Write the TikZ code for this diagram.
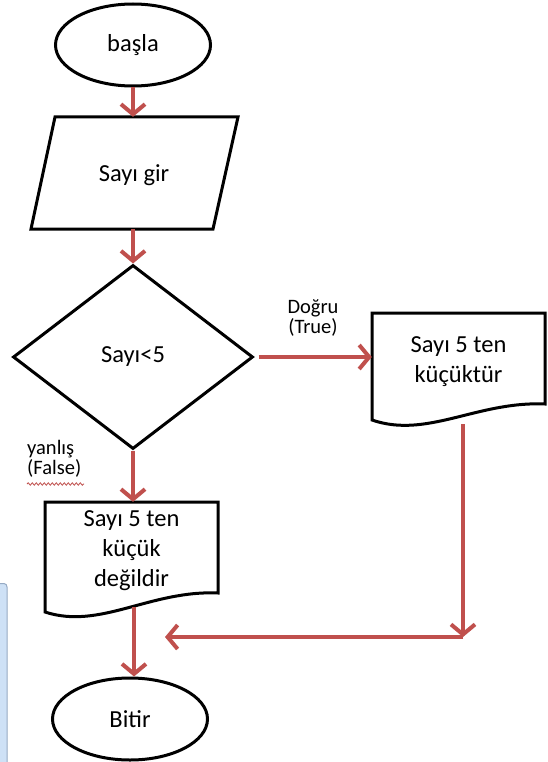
\documentclass[tikz,border=0pt]{standalone}
\usepackage{fontspec}
\setmainfont{Carlito}
\usetikzlibrary{shapes.geometric,arrows.meta,decorations.pathmorphing}
\definecolor{arrowred}{RGB}{192,80,77}
\definecolor{winblue}{RGB}{206,225,246}
\definecolor{winedge}{RGB}{150,170,196}
\begin{document}
\begin{tikzpicture}[x=1pt,y=-1pt,
  outline/.style={draw=black,line width=3pt},
  term/.style={ellipse,outline,minimum width=155pt,minimum height=82pt,inner sep=0pt,font=\fontsize{24.5}{30}\selectfont},
  frame/.style={inner sep=0pt},
  txt/.style={align=center,font=\fontsize{24.5}{30}\selectfont,inner sep=0pt},
  lbl/.style={font=\fontsize{20.5}{20}\selectfont,inner sep=0pt},
  flow/.style={draw=arrowred,line width=4pt,-{Straight Barb[length=10pt,width=24pt]}},
]
\fill[white] (0,0) rectangle (548,762);
\useasboundingbox (0,0) rectangle (548,762);

% window fragment at the left edge
\draw[fill=winblue,draw=winedge,line width=1pt] (-1,763) -- (-1,583.5) -- (4,583.5) to[out=0,in=90] (7,587) -- (7,763);

% start
\node[term] (start) at (133,45) {başla};

% input
\node[frame,minimum width=207pt,minimum height=112pt] (in) at (134.5,173) {};
\draw[outline] (55,117) -- (238,117) -- (213,229) -- (31,229) -- cycle;
\node[txt] (intext) at (134,175) {Sayı gir};

% decision
\node[diamond,outline,minimum width=240pt,minimum height=184pt,inner sep=0pt,font=\fontsize{24.5}{30}\selectfont] (dec) at (133,357) {Sayı<5};

% true document
\node[frame,minimum width=173pt,minimum height=107pt] (yes) at (458.5,366.5) {};
\draw[outline] (372,313) -- (545,313) -- (545,404) .. controls (477,401) and (427,439) .. (372,420) -- cycle;
\node[txt] (yestext) at (458.5,362) {Sayı 5 ten\\küçüktür};

% false document
\node[frame,minimum width=173pt,minimum height=110pt] (no) at (131.5,557) {};
\draw[outline] (45,502) -- (218,502) -- (218,593) .. controls (150,590) and (100,630) .. (45,612) -- cycle;
\node[txt] (notext) at (131.5,551) {Sayı 5 ten\\küçük\\değildir};

% end
\node[term] (end) at (130,719) {Bitir};

% labels
\node[lbl,align=center,anchor=north] (truelbl) at (313,299) {Doğru\\(True)};
\node[lbl,align=left,anchor=north west] (falselbl) at (27,440) {yanlış\\(False)};
\draw[arrowred,line width=0.8pt,decorate,decoration={snake,amplitude=1.2pt,segment length=4pt}] (27,484) -- (84,484);

% connectors
\draw[flow] (start.south) -- (start.south |- in.north);
\draw[flow] (dec.north |- in.south) -- (dec.north);
\draw[flow] ([xshift=4pt]dec.east) -- (dec.east -| yes.west);
\draw[flow] (dec.south) -- (dec.south |- no.north);
\coordinate (noout) at (134,607);
\draw[flow] (noout) -- (noout |- end.north);
\coordinate (yesout) at (463,424);
\coordinate (corner) at (463,637);
\coordinate (join) at (165,637);
\draw[flow] (yesout) -- (corner);
\draw[flow] (corner) -- (join);
\end{tikzpicture}
\end{document}
